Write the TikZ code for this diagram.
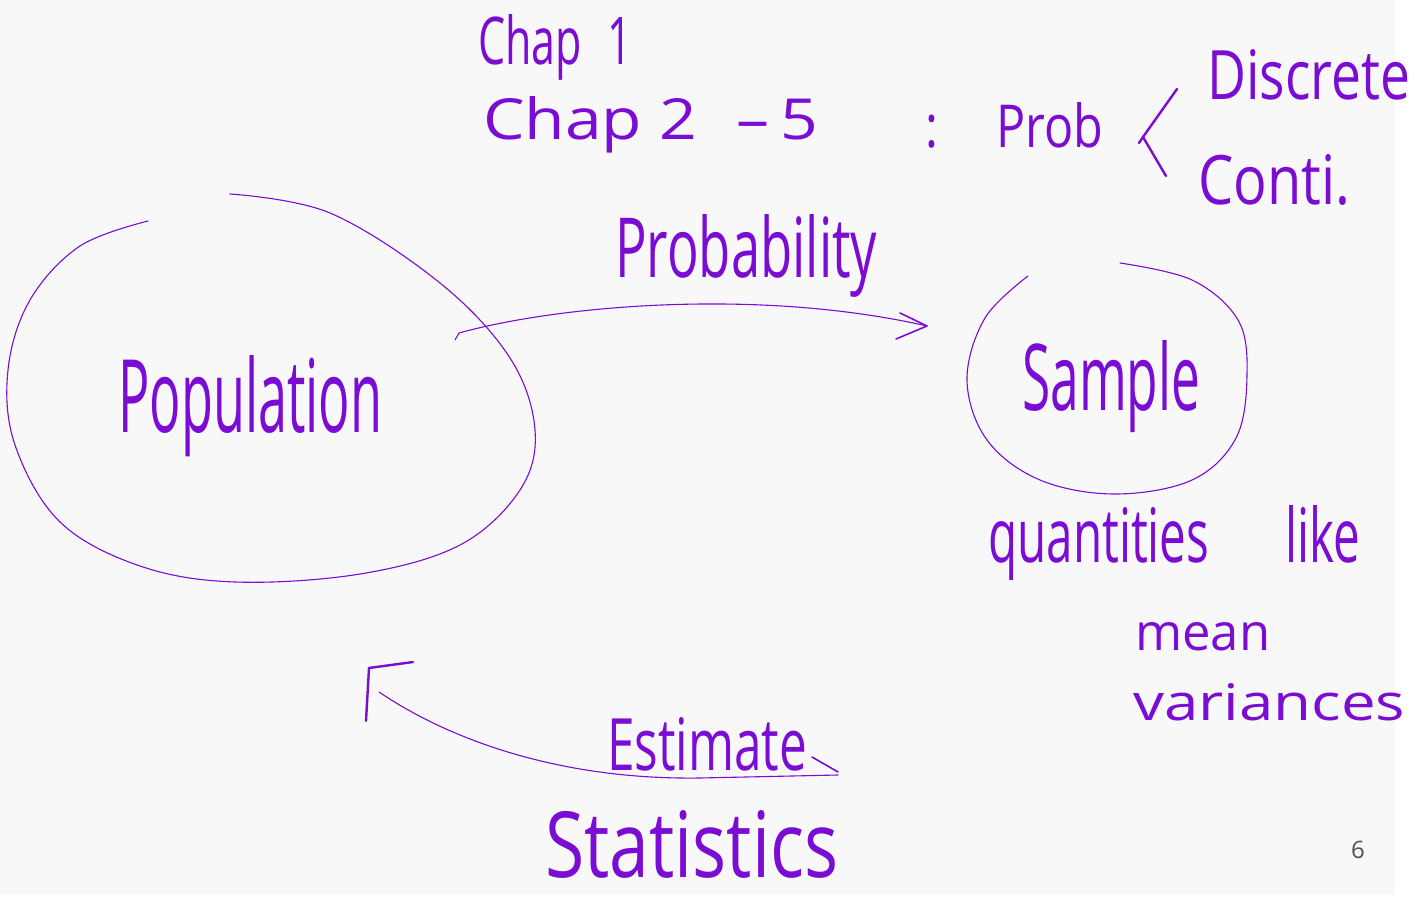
\documentclass[tikz,border=0pt]{standalone}
\usepackage{fontspec}
\usepackage{graphicx}
\setmainfont{Open Sans}
\definecolor{ink}{RGB}{122,12,212}
\definecolor{bg}{RGB}{248,248,248}
\definecolor{pagenum}{RGB}{70,84,86}
\newcommand\hwt[3]{\resizebox{#1pt}{#2pt}{#3}}
\begin{document}
\begin{tikzpicture}[x=1pt,y=-1pt,
  hw/.style={anchor=base west,inner sep=0pt,text=ink},
  loopline/.style={draw=ink,line width=1.1pt,line cap=round},
  stroke/.style={draw=ink,line width=2.4pt,line cap=round,line join=round},
  thinstroke/.style={draw=ink,line width=1.6pt,line cap=round,line join=round}]
\useasboundingbox (0,0) rectangle (1419,909);
\fill[white] (0,0) rectangle (1419,909);
\fill[bg] (0,0) rectangle (1395,895);

% header text
\node[hw] (chap1) at (478,65) {\hwt{154}{50}{Chap\hspace{0.6em}1}};
\node[hw] (chap25) at (483,140) {\hwt{335}{43}{Chap 2\hspace{0.6em}–\,5}};
\node[hw] (prob) at (925,148) {\hwt{178}{45}{:\hspace{1.2em}Prob}};
\path[stroke] (1177,89) -- (1143,137) -- (1166,176);
\path[stroke] (1143,137) -- (1139,143);
\node[hw] (discrete) at (1207,100) {\hwt{203}{50}{Discrete}};
\node[hw] (conti) at (1198,205) {\hwt{152}{50}{Conti.}};

% population
\path[loopline] plot[smooth,tension=0.6] coordinates {(230,194) (330,213) (440,283) (510,358) (535,430) (520,490) (460,545) (360,574) (235,582) (140,566) (60,522) (15,445) (8,370) (30,300) (80,246) (148,221)};
\node[hw] (population) at (118,432) {\hwt{264}{77}{Population}};

% sample
\path[loopline] plot[smooth,tension=0.6] coordinates {(1120,263) (1192,280) (1238,320) (1247,375) (1236,438) (1192,480) (1115,494) (1040,480) (987,440) (967,380) (985,318) (1028,276)};
\node[hw] (sample) at (1022,410) {\hwt{178}{70}{Sample}};

% probability arrow
\coordinate (pstart) at (455,340);
\coordinate (pend) at (927,326);
\path[loopline] (pstart) -- (459,333) .. controls (560,305) and (760,288) .. (pend);
\path[thinstroke] (900,313) -- (pend) -- (896,339);
\node[hw] (probability) at (615,278) {\hwt{262}{63}{Probability}};

% quantities
\node[hw] (quant) at (988,562) {\hwt{372}{57}{quantities\hspace{1.6em}like}};
\node[hw] (mean) at (1135,650) {\hwt{135}{28}{mean}};
\node[hw] (var) at (1133,720) {\hwt{272}{37}{variances}};

% estimate arrow
\coordinate (eend) at (838,775);
\coordinate (ehead) at (369,668);
\path[loopline] (379,692) .. controls (450,740) and (560,780) .. (700,778) -- (eend);
\path[stroke] (366,721) -- (ehead) -- (413,662);
\path[thinstroke] (812,757) -- (838,772);
\node[hw] (estimate) at (607,770) {\hwt{200}{53}{Estimate}};
\node[hw] (statistics) at (545,877) {\hwt{293}{67}{Statistics}};

% page number
\node[text=pagenum,inner sep=0pt,font=\fontsize{24}{24}\selectfont] (pnum) at (1358,850) {6};
\end{tikzpicture}
\end{document}
